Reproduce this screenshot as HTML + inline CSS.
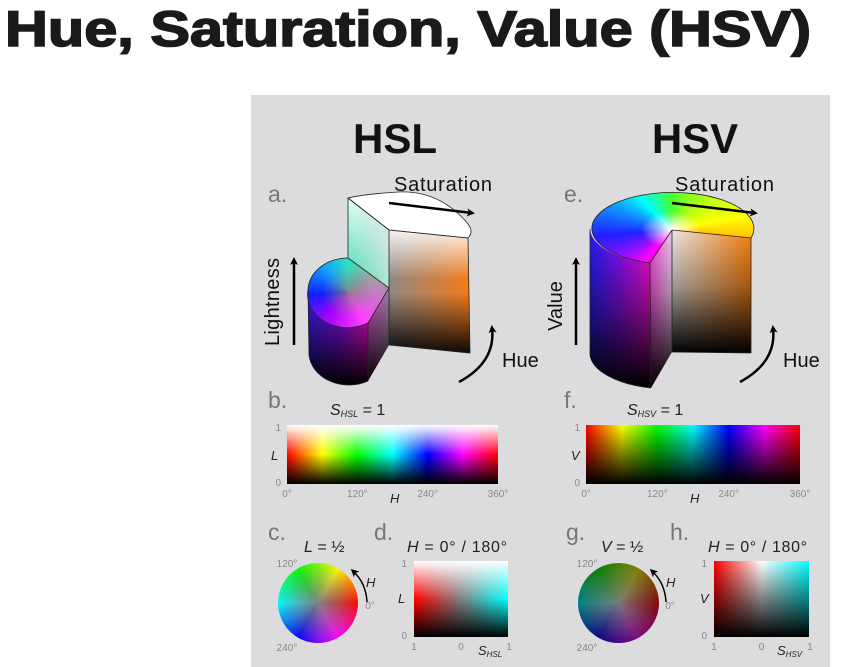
<!DOCTYPE html>
<html><head><meta charset="utf-8">
<style>
html,body{margin:0;padding:0;background:#fff;}
body{width:864px;height:667px;position:relative;overflow:hidden;font-family:"Liberation Sans",sans-serif;}
.abs{position:absolute;}
#panel{left:251px;top:95px;width:579px;height:572px;background:#dcdbdd;}
.plot{position:absolute;}
svg{position:absolute;left:0;top:0;}
</style></head>
<body>
<div id="panel" class="abs"></div>
<div id="hslBar" class="plot" style="left:287px;top:425px;width:211px;height:59px;"></div>
<div id="hsvBar" class="plot" style="left:586px;top:425px;width:214px;height:59px;"></div>
<div id="hslWheel" class="plot" style="left:278px;top:563px;width:80px;height:80px;border-radius:50%;"></div>
<div id="hsvWheel" class="plot" style="left:578px;top:563px;width:81px;height:80px;border-radius:50%;"></div>
<div id="hslSquare" class="plot" style="left:414px;top:561px;width:94px;height:76px;background:linear-gradient(to bottom,#fff 0%,rgba(255,255,255,0) 50%,rgba(0,0,0,0) 50%,#000 100%),linear-gradient(to right,#ff0000,#808080 50%,#00ffff);"></div>
<div id="hsvSquare" class="plot" style="left:714px;top:561px;width:95px;height:76px;background:linear-gradient(to bottom,rgba(0,0,0,0),#000),linear-gradient(to right,#ff0000,#ffffff 50%,#00ffff);"></div>

<svg width="864" height="667" viewBox="0 0 864 667">
<defs>
<marker id="ah" markerWidth="8" markerHeight="8" refX="5" refY="4" orient="auto" markerUnits="userSpaceOnUse" viewBox="0 0 8 8"><path d="M0,0 L8,4 L0,8 L2,4 Z" fill="#000"/></marker>
<clipPath id="cHsvTop"><path d="M672,230 L650,263 A81,36 0 1,1 751,238 Z"/></clipPath>
<clipPath id="cHsvSide"><path d="M590,229 L590,355 A80,36 0 0,0 651,388 L650,263 A80,36 0 0,1 590,229 Z"/></clipPath>
<clipPath id="cHsvCut"><path d="M650,263 L672,230 L672,352 L651,388 Z"/></clipPath>
<clipPath id="cHsvRight"><path d="M672,230 L751,238 L751,353 L672,352 Z"/></clipPath>
<clipPath id="cHslLeft"><path d="M348,198 L389,230 L389,288 L348,258 Z"/></clipPath>
<clipPath id="cHslRight"><path d="M389,230 L468,238 L470,353 L389,345 Z"/></clipPath>
<clipPath id="cHslSide"><path d="M308,290 L309,355 A40,33 0 0,0 368,381 L368,323 A40,33 0 0,1 308,290 Z"/></clipPath>
<clipPath id="cHslCut"><path d="M368,323 L389,288 L389,345 L368,381 Z"/></clipPath>
<clipPath id="cHslTop"><path d="M348,258 L389,288 L368,323 A40,33 0 0,1 308,290 A40,33 0 0,1 348,258 Z"/></clipPath>
</defs>

<text x="5" y="46" font-size="50" font-weight="bold" fill="#1a1a1a" stroke="#1a1a1a" stroke-width="1.6" textLength="806" lengthAdjust="spacingAndGlyphs">Hue, Saturation, Value (HSV)</text>

<text x="395" y="153" font-size="42" font-weight="bold" text-anchor="middle" fill="#111">HSL</text>
<text x="695" y="153" font-size="42" font-weight="bold" text-anchor="middle" fill="#111">HSV</text>

<g>
<foreignObject x="340" y="190" width="60" height="110" clip-path="url(#cHslLeft)"><div xmlns="http://www.w3.org/1999/xhtml" style="width:60px;height:110px;background:linear-gradient(to right,rgba(255,255,255,0) 20%,rgba(230,230,230,.8) 90%),linear-gradient(#f2fffa,#3fd6b0 90%);"></div></foreignObject>
<foreignObject x="385" y="225" width="90" height="135" clip-path="url(#cHslRight)"><div xmlns="http://www.w3.org/1999/xhtml" style="width:90px;height:135px;background:linear-gradient(to bottom,#fff 0%,rgba(255,255,255,0) 40%,rgba(0,0,0,0) 50%,#000 98%),linear-gradient(to right,#8a8a8a,#f07a1e 90%);"></div></foreignObject>
<path d="M348,198 L389,230 L468,238 Q474,232 468,224 Q440,190 398,192 Q365,194 348,198 Z" fill="#fff" stroke="#222" stroke-width="0.8"/>
<foreignObject x="300" y="280" width="95" height="110" clip-path="url(#cHslSide)"><div xmlns="http://www.w3.org/1999/xhtml" style="width:95px;height:110px;background:linear-gradient(to bottom,rgba(0,0,0,0) 5%,rgba(0,0,0,.5) 50%,#000 95%),linear-gradient(to right,#3020ff 5%,#8a10ff 40%,#ff10e0 70%);"></div></foreignObject>
<foreignObject x="360" y="280" width="35" height="110" clip-path="url(#cHslCut)"><div xmlns="http://www.w3.org/1999/xhtml" style="width:35px;height:110px;background:linear-gradient(to bottom,rgba(0,0,0,0) 5%,#000 95%),linear-gradient(to right,#e838e0,#9a9a9a);"></div></foreignObject>
<foreignObject x="300" y="250" width="95" height="80" clip-path="url(#cHslTop)"><div xmlns="http://www.w3.org/1999/xhtml" style="width:95px;height:80px;background:radial-gradient(circle at 50% 52%,rgba(128,128,128,.8),rgba(128,128,128,0) 40%),conic-gradient(from 0deg at 50% 52%,#30e0c0 0deg,#a0a0a0 60deg,#ff40ff 150deg,#a000ff 220deg,#1020ff 265deg,#10a0ff 315deg,#30e0c0 360deg);"></div></foreignObject>
<path d="M348,198 L389,230 L468,238 M389,230 L389,345 M348,198 L348,258 L389,288 L368,323 L368,381 M389,288 L389,345 M468,238 L470,353 L389,345" fill="none" stroke="#222" stroke-width="0.8"/>
<path d="M368,323 A40,33 0 0,1 308,290 A40,33 0 0,1 348,258 M308,290 L309,355 A40,33 0 0,0 368,381" fill="none" stroke="#222" stroke-width="0.8"/>
</g>

<g>
<foreignObject x="585" y="220" width="75" height="175" clip-path="url(#cHsvSide)"><div xmlns="http://www.w3.org/1999/xhtml" style="width:75px;height:175px;background:linear-gradient(to bottom,rgba(0,0,0,0) 5%,rgba(0,0,0,.45) 50%,#000 95%),linear-gradient(to right,#2020ff 5%,#8a10ff 45%,#ff10e0 85%);"></div></foreignObject>
<foreignObject x="645" y="225" width="30" height="170" clip-path="url(#cHsvCut)"><div xmlns="http://www.w3.org/1999/xhtml" style="width:30px;height:170px;background:linear-gradient(to bottom,rgba(0,0,0,0) 0%,rgba(0,0,0,.3) 40%,#000 95%),linear-gradient(to right,#ff30e0,#f4e0f4);"></div></foreignObject>
<foreignObject x="668" y="225" width="88" height="135" clip-path="url(#cHsvRight)"><div xmlns="http://www.w3.org/1999/xhtml" style="width:88px;height:135px;background:linear-gradient(to bottom,rgba(0,0,0,0) 0%,rgba(0,0,0,.35) 45%,#000 95%),linear-gradient(to right,#f4f4f4,#ff8a1a 90%);"></div></foreignObject>
<foreignObject x="585" y="188" width="172" height="80" clip-path="url(#cHsvTop)"><div xmlns="http://www.w3.org/1999/xhtml" style="width:172px;height:80px;background:radial-gradient(ellipse 30px 18px at 50% 52%,#fff,rgba(255,255,255,0)),conic-gradient(from 0deg at 50% 52%,#40ff30 0deg,#ffff00 80deg,#ff8a10 110deg,#ff0080 180deg,#ff00ff 220deg,#2020ff 265deg,#00ffff 315deg,#40ff30 360deg);"></div></foreignObject>
<path d="M672,230 L650,263 L651,388 M672,230 L751,238 L751,353 L672,352 L672,230" fill="none" stroke="#222" stroke-width="0.8"/>
<path d="M650,263 A81,36 0 1,1 751,238 M590,229 L590,355 A80,36 0 0,0 651,388" fill="none" stroke="#222" stroke-width="0.8"/>
</g>

<g fill="#111" font-size="20">
<text x="268" y="202" font-size="23" fill="#777">a.</text>
<text x="564" y="202" font-size="23" fill="#777">e.</text>
<text x="394" y="191" textLength="98">Saturation</text>
<text x="675" y="191" textLength="99">Saturation</text>
<text x="502" y="367">Hue</text>
<text x="783" y="367">Hue</text>
<text transform="translate(279,302) rotate(-90)" text-anchor="middle" textLength="88">Lightness</text>
<text transform="translate(562,306) rotate(-90)" text-anchor="middle">Value</text>
</g>
<g stroke="#000" stroke-width="2.5" fill="none">
<line x1="389" y1="203" x2="472" y2="213" marker-end="url(#ah)"/>
<line x1="672" y1="203" x2="755" y2="213" marker-end="url(#ah)"/>
<line x1="294" y1="345" x2="294" y2="260" marker-end="url(#ah)"/>
<line x1="576" y1="345" x2="576" y2="260" marker-end="url(#ah)"/>
<path d="M459,382 Q496,362 492,328" marker-end="url(#ah)"/>
<path d="M740,382 Q777,362 773,328" marker-end="url(#ah)"/>
<path d="M367,602 Q366,583 353,571" stroke-width="1.5" marker-end="url(#ah)"/>
<path d="M666,602 Q665,583 652,571" stroke-width="1.5" marker-end="url(#ah)"/>
</g>

<g fill="#777" font-size="23">
<text x="268" y="408">b.</text>
<text x="564" y="408">f.</text>
<text x="268" y="540">c.</text>
<text x="374" y="540">d.</text>
<text x="566" y="540">g.</text>
<text x="670" y="540">h.</text>
</g>
<g fill="#222" font-size="16" font-style="italic">
<text x="330" y="415">S<tspan font-size="9" dy="2">HSL</tspan><tspan dy="-2" font-style="normal"> = 1</tspan></text>
<text x="627" y="415">S<tspan font-size="9" dy="2">HSV</tspan><tspan dy="-2" font-style="normal"> = 1</tspan></text>
<text x="304" y="552">L<tspan font-style="normal"> = ½</tspan></text>
<text x="601" y="552">V<tspan font-style="normal"> = ½</tspan></text>
<text x="407" y="552" textLength="100">H<tspan font-style="normal"> = 0° / 180°</tspan></text>
<text x="708" y="552" textLength="99">H<tspan font-style="normal"> = 0° / 180°</tspan></text>
<text x="271" y="460" font-size="13">L</text>
<text x="571" y="460" font-size="13">V</text>
<text x="390" y="503" font-size="13">H</text>
<text x="690" y="503" font-size="13">H</text>
<text x="398" y="603" font-size="13">L</text>
<text x="700" y="603" font-size="13">V</text>
<text x="478" y="655" font-size="13">S<tspan font-size="8" dy="2">HSL</tspan></text>
<text x="777" y="655" font-size="13">S<tspan font-size="8" dy="2">HSV</tspan></text>
<text x="366" y="587" font-size="13">H</text>
<text x="666" y="587" font-size="13">H</text>
</g>
<g id="ticks" fill="#888" font-size="10"></g>
</svg>

<script>
const hueStops = ['#ff0000','#ffff00','#00ff00','#00ffff','#0000ff','#ff00ff','#ff0000'];
const hueStopsHalf = ['#800000','#808000','#008000','#008080','#000080','#800080','#800000'];
const hueTickValues = [0, 120, 240, 360];
const hueTickLabels = ['0°', '120°', '240°', '360°'];
const yTickLabels = ['1', '0'];
const satTickLabels = ['1', '0', '1'];

function xH(v, x0, w) { return x0 + v / 360 * w; }
function gradientStops(arr) { return arr.join(','); }

document.getElementById('hslBar').style.background =
  'linear-gradient(to bottom,#fff 0%,rgba(255,255,255,0) 50%,rgba(0,0,0,0) 50%,#000 100%),' +
  'linear-gradient(to right,' + gradientStops(hueStops) + ')';
document.getElementById('hsvBar').style.background =
  'linear-gradient(to bottom,rgba(0,0,0,0) 0%,#000 100%),' +
  'linear-gradient(to right,' + gradientStops(hueStops) + ')';
const rev = hueStops.slice().reverse();
const revHalf = hueStopsHalf.slice().reverse();
document.getElementById('hslWheel').style.background =
  'radial-gradient(circle,rgba(128,128,128,1) 0%,rgba(128,128,128,0) 75%),conic-gradient(from 90deg,' + gradientStops(rev) + ')';
document.getElementById('hsvWheel').style.background =
  'radial-gradient(circle,rgba(128,128,128,.9) 0%,rgba(128,128,128,0) 75%),conic-gradient(from 90deg,' + gradientStops(revHalf) + ')';

const NS = 'http://www.w3.org/2000/svg';
const g = document.getElementById('ticks');
function addText(x, y, s, anchor, name) {
  const t = document.createElementNS(NS, 'text');
  t.setAttribute('x', x); t.setAttribute('y', y);
  t.setAttribute('text-anchor', anchor || 'middle');
  t.textContent = s;
  
  
  g.appendChild(t);
}
const bars = [{x0: 287, w: 211, name: 'hsl'}, {x0: 586, w: 214, name: 'hsv'}];
bars.forEach(b => {
  hueTickValues.forEach((v, i) => {
    addText(xH(v, b.x0, b.w), 497, hueTickLabels[i], 'middle', b.name + '-hue-tick');
  });
  yTickLabels.forEach((s, i) => {
    addText(b.x0 - 6, 431 + i * 55, s, 'end', b.name + '-y-tick');
  });
});
[{x0: 414, w: 94, name: 'hsl-square'}, {x0: 714, w: 95, name: 'hsv-square'}].forEach(sq => {
  yTickLabels.forEach((s, i) => {
    addText(sq.x0 - 7, 567 + i * 72, s, 'end', sq.name + '-y-tick');
  });
  satTickLabels.forEach((s, i) => {
    addText(sq.x0 + (i === 2 ? sq.w + 1 : i * sq.w / 2), 650, s, 'middle', sq.name + '-x-tick');
  });
});
[{cx: 318, name: 'hsl-wheel'}, {cx: 618, name: 'hsv-wheel'}].forEach(w => {
  addText(w.cx - 31, 567, '120°', 'middle', w.name + '-tick-120');
  addText(w.cx - 31, 651, '240°', 'middle', w.name + '-tick-240');
  addText(w.cx + 52, 609, '0°', 'middle', w.name + '-tick-0');
});
</script>
</body></html>
